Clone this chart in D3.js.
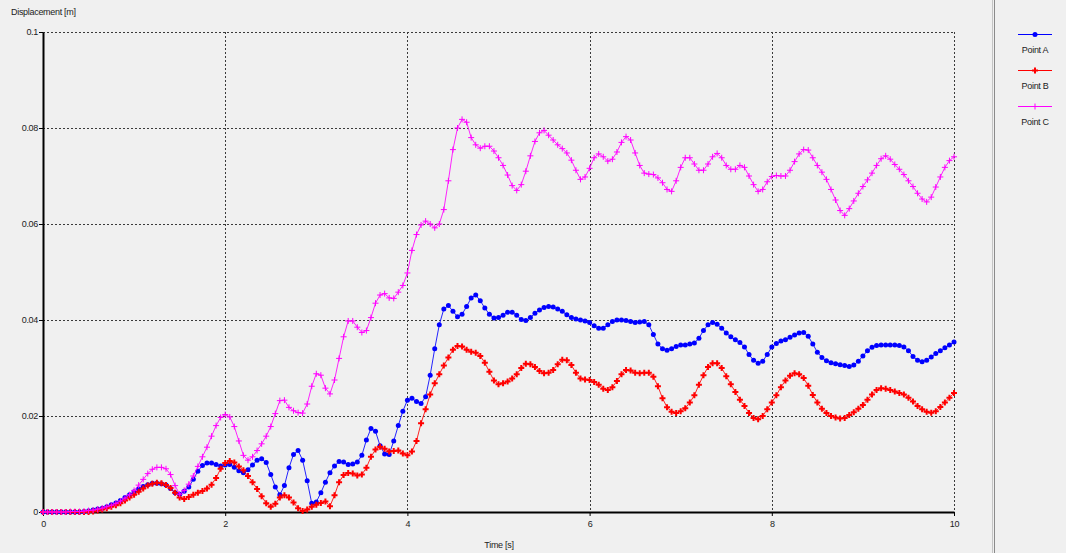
<!DOCTYPE html>
<html>
<head>
<meta charset="utf-8">
<script src="https://cdn.jsdelivr.net/npm/d3@7/dist/d3.min.js"></script>
<style>
  html, body { margin: 0; padding: 0; background: #f0f0f0; }
  svg { display: block; }
  text { font-family: "Liberation Sans", Arial, sans-serif; font-size: 9px; letter-spacing: -0.3px; fill: #222; }
</style>
</head>
<body>
<svg id="chart" width="1066" height="553"></svg>
<script>
// Sampling step of the displacement record [s]
const timeStep = 0.05;

// Displacement of Point A [m], one value per time step from 0 to 10 s
const pointA = [
  0,0,0,0,0,0,0,0,0,0.0001,
  0.0002,0.0004,0.0006,0.0008,0.0011,0.0015,0.0019,0.0024,0.0030,0.0036,
  0.0042,0.0048,0.0053,0.0057,0.0060,0.0060,0.0059,0.0056,0.0049,0.0040,
  0.0037,0.0043,0.0052,0.0068,0.0085,0.0097,0.0102,0.0102,0.0099,0.0096,
  0.0098,0.0099,0.0093,0.0086,0.0082,0.0088,0.0098,0.0108,0.0111,0.0103,
  0.0078,0.0052,0.0036,0.0055,0.0092,0.0120,0.0128,0.0108,0.0065,0.0018,
  0.0021,0.0040,0.0062,0.0082,0.0096,0.0105,0.0104,0.0099,0.0100,0.0104,
  0.0118,0.0150,0.0174,0.0168,0.0138,0.0121,0.0120,0.0148,0.0180,0.0210,
  0.0233,0.0237,0.0230,0.0226,0.0240,0.0285,0.0340,0.0390,0.0423,0.0430,
  0.0418,0.0407,0.0412,0.0428,0.0446,0.0452,0.0440,0.0425,0.0412,0.0404,
  0.0405,0.0410,0.0416,0.0416,0.0410,0.0401,0.0399,0.0405,0.0414,0.0421,
  0.0426,0.0428,0.0427,0.0423,0.0418,0.0411,0.0405,0.0402,0.0400,0.0398,
  0.0395,0.0388,0.0383,0.0383,0.0390,0.0397,0.0400,0.0400,0.0399,0.0397,
  0.0395,0.0396,0.0397,0.0390,0.0370,0.0350,0.0340,0.0337,0.0340,0.0345,
  0.0348,0.0348,0.0350,0.0352,0.0362,0.0378,0.0390,0.0395,0.0391,0.0383,
  0.0373,0.0365,0.0359,0.0353,0.0344,0.0328,0.0316,0.0310,0.0314,0.0328,
  0.0344,0.0351,0.0356,0.0359,0.0364,0.0369,0.0373,0.0374,0.0366,0.0350,
  0.0333,0.0322,0.0315,0.0311,0.0309,0.0307,0.0305,0.0303,0.0306,0.0314,
  0.0325,0.0336,0.0343,0.0347,0.0348,0.0348,0.0348,0.0348,0.0347,0.0344,
  0.0336,0.0324,0.0316,0.0313,0.0316,0.0323,0.0330,0.0336,0.0342,0.0348,
  0.0354
];

// Displacement of Point B [m]
const pointB = [
  0,0,0,0,0,0,0,0,0,0,
  0,0.0001,0.0003,0.0005,0.0008,0.0011,0.0014,0.0018,0.0024,0.0030,
  0.0036,0.0042,0.0049,0.0055,0.0059,0.0061,0.0060,0.0056,0.0050,0.0040,
  0.0030,0.0027,0.0031,0.0036,0.0040,0.0044,0.0049,0.0057,0.0071,0.0090,
  0.0102,0.0106,0.0103,0.0095,0.0087,0.0075,0.0062,0.0048,0.0033,0.0018,
  0.0011,0.0017,0.0030,0.0035,0.0030,0.0020,0.0008,0.0002,0.0005,0.0011,
  0.0015,0.0019,0.0022,0.0012,0.0035,0.0062,0.0077,0.0081,0.0080,0.0076,
  0.0078,0.0092,0.0115,0.0130,0.0136,0.0132,0.0126,0.0127,0.0128,0.0122,
  0.0118,0.0126,0.0148,0.0185,0.0214,0.0245,0.0268,0.0287,0.0305,0.0322,
  0.0338,0.0346,0.0345,0.0338,0.0334,0.0332,0.0325,0.0311,0.0292,0.0274,
  0.0266,0.0268,0.0272,0.0278,0.0287,0.0300,0.0309,0.0308,0.0302,0.0294,
  0.0289,0.0290,0.0296,0.0308,0.0317,0.0316,0.0306,0.0290,0.0278,0.0276,
  0.0275,0.0271,0.0265,0.0257,0.0254,0.0260,0.0273,0.0287,0.0296,0.0295,
  0.0290,0.0289,0.0290,0.0290,0.0282,0.0262,0.0237,0.0218,0.0209,0.0206,
  0.0210,0.0216,0.0228,0.0243,0.0265,0.0285,0.0302,0.0310,0.0310,0.0300,
  0.0283,0.0266,0.0250,0.0234,0.0221,0.0206,0.0196,0.0193,0.0200,0.0214,
  0.0228,0.0243,0.0260,0.0274,0.0284,0.0289,0.0287,0.0279,0.0263,0.0244,
  0.0228,0.0215,0.0206,0.0200,0.0197,0.0195,0.0196,0.0202,0.0208,0.0215,
  0.0223,0.0234,0.0245,0.0254,0.0258,0.0257,0.0254,0.0251,0.0248,0.0245,
  0.0238,0.0230,0.0221,0.0214,0.0209,0.0207,0.0210,0.0219,0.0228,0.0238,
  0.0248
];

// Displacement of Point C [m]
const pointC = [
  0,0,0,0,0,0,0.0001,0.0001,0.0001,0.0002,
  0.0003,0.0004,0.0006,0.0008,0.0011,0.0014,0.0018,0.0023,0.0029,0.0036,
  0.0045,0.0056,0.0068,0.0080,0.0089,0.0093,0.0093,0.0090,0.0078,0.0055,
  0.0037,0.0045,0.0058,0.0075,0.0095,0.0115,0.0135,0.0158,0.0180,0.0197,
  0.0203,0.0198,0.0178,0.0148,0.0118,0.0108,0.0115,0.0128,0.0142,0.0158,
  0.0178,0.0205,0.0232,0.0233,0.0218,0.0211,0.0207,0.0206,0.0225,0.0262,
  0.0288,0.0285,0.0258,0.0246,0.0275,0.0320,0.0365,0.0398,0.0398,0.0385,
  0.0374,0.0378,0.0405,0.0435,0.0452,0.0455,0.0446,0.0445,0.0458,0.0472,
  0.0498,0.0545,0.0578,0.0598,0.0606,0.0600,0.0592,0.0600,0.0630,0.0690,
  0.0755,0.0800,0.0818,0.0812,0.0780,0.0765,0.0758,0.0762,0.0762,0.0752,
  0.0738,0.0722,0.0702,0.0680,0.0670,0.0682,0.0710,0.0742,0.0772,0.0790,
  0.0795,0.0785,0.0775,0.0765,0.0757,0.0748,0.0733,0.0712,0.0693,0.0698,
  0.0716,0.0738,0.0746,0.0740,0.0731,0.0735,0.0750,0.0770,0.0782,0.0775,
  0.0748,0.0722,0.0706,0.0704,0.0703,0.0696,0.0686,0.0672,0.0668,0.0690,
  0.0718,0.0738,0.0738,0.0725,0.0712,0.0712,0.0725,0.0740,0.0747,0.0738,
  0.0722,0.0714,0.0714,0.0722,0.0718,0.0700,0.0682,0.0668,0.0672,0.0688,
  0.0699,0.0701,0.0700,0.0700,0.0712,0.0730,0.0746,0.0755,0.0754,0.0738,
  0.0722,0.0708,0.0693,0.0672,0.0650,0.0628,0.0618,0.0632,0.0648,0.0664,
  0.0678,0.0692,0.0706,0.0722,0.0736,0.0742,0.0735,0.0724,0.0714,0.0703,
  0.0690,0.0678,0.0664,0.0652,0.0646,0.0656,0.0677,0.0698,0.0718,0.0732,
  0.0740
];

const seriesNames = ["Point A", "Point B", "Point C"];
const xTicks = [0, 2, 4, 6, 8, 10];
const yTicks = [0, 0.02, 0.04, 0.06, 0.08, 0.1];
const xTitle = "Time [s]";
const yTitle = "Displacement [m]";

// Chart geometry and styling
const plot = { left: 43, right: 954, top: 32, bottom: 512 };
const styles = [
  { color: "#0000ff", marker: "circle" },
  { color: "#ff0000", marker: "cross" },
  { color: "#ff00ff", marker: "plus" }
];

const svg = d3.select("#chart");
svg.append("rect").attr("width", 1066).attr("height", 553).attr("fill", "#f0f0f0");

const x = d3.scaleLinear().domain([0, 10]).range([plot.left, plot.right]);
const y = d3.scaleLinear().domain([0, 0.1]).range([plot.bottom, plot.top]);

// Dashed grid
const grid = svg.append("g").attr("stroke", "#3a3a3a").attr("stroke-width", 1)
  .attr("stroke-dasharray", "2,2").attr("shape-rendering", "crispEdges");
grid.selectAll("line.v").data(xTicks.filter(d => d > 0)).join("line")
  .attr("x1", d => Math.round(x(d)) + 0.5).attr("x2", d => Math.round(x(d)) + 0.5)
  .attr("y1", plot.top).attr("y2", plot.bottom);
grid.selectAll("line.h").data(yTicks.filter(d => d > 0)).join("line")
  .attr("x1", plot.left).attr("x2", plot.right)
  .attr("y1", d => Math.round(y(d)) + 0.5).attr("y2", d => Math.round(y(d)) + 0.5);

// Axes
const fmt = d => d === 0 ? "0" : String(+d.toFixed(2));
const xAxis = svg.append("g").attr("transform", `translate(0,${plot.bottom})`)
  .call(d3.axisBottom(x).tickValues(xTicks).tickFormat(fmt).tickSize(4).tickSizeOuter(0).tickPadding(5));
const yAxis = svg.append("g").attr("transform", `translate(${plot.left},0)`)
  .call(d3.axisLeft(y).tickValues(yTicks).tickFormat(fmt).tickSize(4).tickSizeOuter(0).tickPadding(1));
[xAxis, yAxis].forEach(a => {
  a.select(".domain").attr("stroke", "#000").attr("stroke-width", 2);
  a.selectAll(".tick line").attr("stroke", "#000");
  a.selectAll(".tick text").attr("fill", "#222").style("font-size", "9px")
    .style("font-family", "'Liberation Sans', Arial, sans-serif");
});

svg.append("text").attr("x", 11).attr("y", 15).text(yTitle);
svg.append("text").attr("x", 499).attr("y", 548).attr("text-anchor", "middle").text(xTitle);

// Marker drawing
const crossPath = d3.symbol().type(d3.symbolCross).size(20)();
function drawMarker(sel, kind, color) {
  if (kind === "circle") {
    sel.append("circle").attr("r", 2.5).attr("fill", color);
  } else if (kind === "cross") {
    sel.append("path").attr("d", crossPath).attr("fill", color);
  } else {
    sel.append("path").attr("d", "M-3,0H3M0,-3V3").attr("stroke", color)
      .attr("stroke-width", 1).attr("fill", "none");
  }
}

// Series, drawn A then B then C
const allSeries = [pointA, pointB, pointC];
const line = d3.line().x((d, i) => x(i * timeStep)).y(d => y(d));
allSeries.forEach((vals, k) => {
  const st = styles[k];
  const g = svg.append("g");
  g.append("path").datum(vals).attr("d", line).attr("fill", "none")
    .attr("stroke", st.color).attr("stroke-width", 1).attr("stroke-opacity", 0.85);
  g.selectAll("g.m").data(vals).join("g")
    .attr("transform", (d, i) => `translate(${x(i * timeStep)},${y(d)})`)
    .each(function () { drawMarker(d3.select(this), st.marker, st.color); });
});

// Legend panel divider
svg.append("line").attr("x1", 992.5).attr("x2", 992.5).attr("y1", 0).attr("y2", 553)
  .attr("stroke", "#c4c4c4").attr("stroke-width", 1);
svg.append("line").attr("x1", 994.5).attr("x2", 994.5).attr("y1", 0).attr("y2", 553)
  .attr("stroke", "#8a8a8a").attr("stroke-width", 1);

// Legend
const legendY = [34, 70, 106];
seriesNames.forEach((name, k) => {
  const g = svg.append("g").attr("transform", `translate(1035,${legendY[k]})`);
  g.append("line").attr("x1", -17).attr("x2", 17).attr("y1", 0.5).attr("y2", 0.5)
    .attr("stroke", styles[k].color).attr("stroke-width", 1);
  const mk = g.append("g").attr("transform", "translate(0,0.5)");
  drawMarker(mk, styles[k].marker, styles[k].color);
  g.append("text").attr("x", 0).attr("y", 19).attr("text-anchor", "middle").text(name);
});
</script>
</body>
</html>
